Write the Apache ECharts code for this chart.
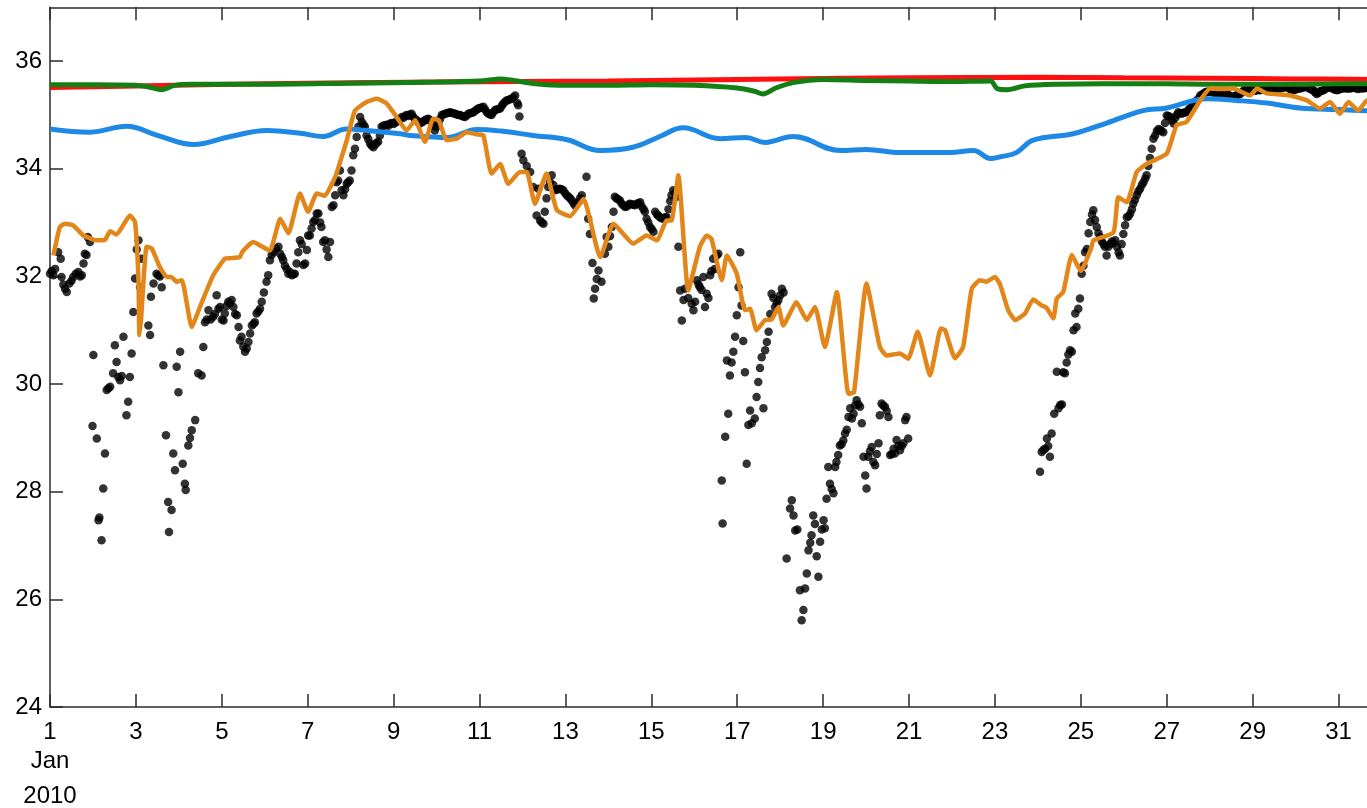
<!DOCTYPE html>
<html>
<head>
<meta charset="utf-8">
<script src="https://cdn.jsdelivr.net/npm/echarts@6/dist/echarts.min.js"></script>
<style>
html,body{margin:0;padding:0;background:#fff;overflow:hidden;}
#chart{width:1400px;height:808px;}
</style>
</head>
<body>
<div id="chart"></div>
<script>
// x: day of January 2010, y: salinity
const xTickDays = [1,3,5,7,9,11,13,15,17,19,21,23,25,27,29,31];
const yTicks = [24,26,28,30,32,34,36];

const observedDots = [
[1.00,32.05],[1.04,32.10],[1.08,32.02],[1.12,32.14],[1.19,32.45],[1.25,32.33],[1.27,31.99],[1.31,31.85],[1.35,31.77],[1.39,31.71],[1.45,31.87],[1.50,31.92],[1.54,31.99],[1.60,32.05],[1.66,32.08],[1.70,32.00],[1.74,32.02],[1.78,32.24],[1.81,32.42],[1.85,32.40],[1.88,32.73],[1.93,32.64],
[1.99,29.22],[2.01,30.54],[2.09,28.99],[2.13,27.47],[2.15,27.52],[2.20,27.10],[2.24,28.06],[2.28,28.71],[2.32,29.89],[2.36,29.92],[2.40,29.95],[2.47,30.20],[2.51,30.72],[2.55,30.41],[2.59,30.13],[2.63,30.07],[2.67,30.15],[2.71,30.88],[2.78,29.42],[2.82,29.67],[2.86,30.13],[2.90,30.57],[2.94,31.34],[2.98,31.96],[3.02,32.50],[3.06,32.67],[3.10,31.80],[3.13,32.33],[3.29,31.09],[3.33,30.91],[3.35,31.62],[3.41,31.87],[3.48,32.05],[3.52,32.02],[3.56,32.00],[3.60,31.80],
[3.64,30.35],[3.70,29.05],[3.75,27.81],[3.77,27.25],[3.83,27.66],[3.87,28.71],[3.91,28.40],[3.95,30.32],[3.99,29.85],[4.03,30.60],[4.09,28.52],[4.14,28.15],[4.16,28.03],[4.22,28.86],[4.26,29.00],[4.30,29.14],[4.38,29.33],[4.45,30.20],[4.53,30.16],[4.57,30.69],[4.61,31.15],[4.65,31.20],[4.69,31.37],[4.74,31.20],[4.80,31.25],[4.84,31.30],[4.88,31.65],[4.92,31.40],[4.96,31.43],[5.00,31.20],[5.04,31.18],[5.07,31.31],[5.11,31.45],[5.15,31.53],[5.19,31.50],[5.23,31.56],[5.27,31.43],[5.31,31.30],[5.35,31.28],[5.39,31.06],[5.42,30.81],[5.46,30.88],[5.50,30.70],[5.54,30.60],[5.58,30.66],[5.62,30.78],[5.66,30.94],[5.70,31.09],[5.74,31.12],[5.77,31.15],[5.81,31.31],[5.85,31.35],[5.89,31.40],[5.93,31.53],[5.98,31.70],[6.04,31.90],[6.08,32.02],[6.12,32.30],[6.16,32.40],[6.20,32.45],[6.26,32.52],[6.32,32.55],[6.36,32.42],[6.40,32.36],[6.43,32.30],[6.47,32.20],[6.51,32.14],[6.55,32.05],[6.59,32.08],[6.63,32.02],[6.67,32.04],[6.70,32.05],[6.74,32.24],[6.78,32.45],[6.82,32.67],[6.86,32.60],[6.90,32.21],[6.94,32.24],[6.98,32.49],[7.01,32.76],[7.05,32.76],[7.09,32.89],[7.13,33.01],[7.17,33.05],[7.21,33.17],[7.25,33.17],[7.29,33.00],[7.32,32.92],[7.36,32.64],[7.40,32.67],[7.44,32.50],[7.48,32.36],[7.52,32.64],[7.56,33.29],[7.60,33.32],[7.64,33.51],[7.67,33.75],[7.71,33.78],[7.75,33.97],[7.79,33.60],[7.83,33.51],[7.87,33.62],[7.91,33.72],[7.94,33.75],[7.98,33.78],[8.02,33.97],[8.06,34.25],[8.10,34.37],[8.14,34.59],[8.18,34.78],[8.22,34.96],[8.26,34.87],[8.30,34.82],[8.33,34.78],[8.37,34.62],[8.41,34.55],[8.45,34.47],[8.49,34.43],[8.53,34.40],[8.57,34.45],[8.60,34.48],[8.64,34.50],[8.68,34.62],[8.72,34.78],[8.76,34.80],[8.80,34.81],[8.84,34.82],[8.88,34.80],[8.92,34.84],[8.96,34.85],[9.00,34.83],[9.03,34.86],[9.07,34.87],[9.11,34.90],[9.15,34.92],[9.19,34.96],[9.23,34.95],[9.27,34.98],[9.30,35.00],[9.34,34.98],[9.38,35.01],[9.42,35.02],[9.46,34.96],[9.50,34.92],[9.54,34.90],[9.58,34.86],[9.61,34.84],[9.65,34.86],[9.69,34.88],[9.73,34.90],[9.77,34.92],[9.81,34.93],[9.85,34.90],[9.89,34.87],[9.93,34.80],[9.96,34.71],[10.00,34.78],[10.04,34.84],[10.08,34.92],[10.12,35.00],[10.16,35.01],[10.20,35.02],[10.24,35.03],[10.28,35.04],[10.31,35.05],[10.35,35.04],[10.39,35.03],[10.43,35.02],[10.47,35.01],[10.51,35.00],[10.55,35.00],[10.59,34.98],[10.63,34.97],[10.66,34.96],[10.70,34.99],[10.74,35.02],[10.78,35.03],[10.82,35.04],[10.86,35.05],[10.90,35.08],[10.94,35.10],[10.97,35.12],[11.01,35.13],[11.05,35.14],[11.09,35.15],[11.13,35.10],[11.17,35.05],[11.21,35.02],[11.25,35.01],[11.28,35.00],[11.32,35.05],[11.36,35.09],[11.40,35.10],[11.44,35.11],[11.48,35.12],[11.52,35.17],[11.55,35.21],[11.59,35.24],[11.63,35.27],[11.67,35.28],[11.71,35.29],[11.75,35.30],[11.79,35.33],[11.83,35.36],[11.88,35.22],[11.90,35.18],[11.93,34.97],
[11.98,34.28],[12.02,34.16],[12.10,34.05],[12.18,33.94],[12.25,33.66],[12.33,33.13],[12.37,33.63],[12.41,33.04],[12.45,33.00],[12.49,32.98],[12.52,33.20],[12.56,33.45],[12.60,33.66],[12.64,33.75],[12.68,33.88],[12.72,33.70],[12.76,33.60],[12.80,33.62],[12.84,33.62],[12.87,33.63],[12.91,33.62],[12.95,33.60],[12.99,33.55],[13.03,33.51],[13.07,33.48],[13.11,33.45],[13.15,33.41],[13.19,33.36],[13.22,33.32],[13.26,33.35],[13.30,33.38],[13.34,33.45],[13.38,33.51],[13.49,33.85],[13.53,33.07],[13.57,32.79],[13.63,32.25],[13.66,31.59],[13.69,31.77],[13.73,31.95],[13.77,32.11],[13.84,31.90],[13.92,32.42],[13.96,32.73],[14.00,32.55],[14.04,32.75],[14.08,32.92],[14.12,33.20],[14.15,33.48],[14.19,33.45],[14.23,33.43],[14.27,33.41],[14.31,33.35],[14.35,33.32],[14.39,33.29],[14.43,33.30],[14.47,33.33],[14.50,33.35],[14.54,33.34],[14.58,33.33],[14.62,33.32],[14.66,33.35],[14.70,33.36],[14.74,33.38],[14.78,33.30],[14.82,33.25],[14.85,33.20],[14.89,33.07],[14.93,33.00],[14.97,32.92],[15.01,32.88],[15.05,32.83],[15.09,33.20],[15.13,33.15],[15.16,33.13],[15.20,33.10],[15.24,33.08],[15.28,33.07],[15.32,33.10],[15.36,33.10],[15.40,33.25],[15.44,33.40],[15.47,33.51],[15.51,33.60],[15.55,33.55],[15.59,33.48],[15.63,32.55],[15.67,31.74],[15.71,31.18],[15.75,31.56],[15.78,31.77],[15.86,31.60],[15.94,31.49],[15.98,31.37],[16.02,31.53],[16.06,31.93],[16.10,31.85],[16.13,31.80],[16.17,31.75],[16.21,31.99],[16.25,31.43],[16.29,31.68],[16.33,31.60],[16.37,32.02],[16.40,32.10],[16.44,32.33],[16.48,32.14],[16.52,32.39],[16.56,32.42],
[16.64,28.21],[16.66,27.41],[16.72,29.02],[16.76,30.44],[16.79,29.45],[16.83,30.16],[16.87,30.40],[16.91,30.60],[16.95,30.88],[16.99,31.28],[17.03,31.80],[17.07,32.45],[17.10,31.46],[17.14,30.80],[17.18,30.22],[17.22,28.52],[17.26,29.24],[17.30,29.51],[17.34,29.27],[17.41,29.36],[17.45,29.76],[17.49,30.04],[17.53,30.30],[17.57,30.50],[17.61,29.55],[17.65,30.63],[17.69,30.78],[17.73,30.97],[17.77,31.30],[17.80,31.68],[17.84,31.60],[17.88,31.43],[17.92,31.50],[17.96,31.56],[18.00,31.65],[18.04,31.77],[18.08,31.70],
[18.15,26.76],[18.23,27.69],[18.27,27.84],[18.31,27.56],[18.35,27.28],[18.40,27.30],[18.46,26.17],[18.50,25.61],[18.54,25.80],[18.58,26.20],[18.62,26.48],[18.66,26.91],[18.70,27.05],[18.73,27.19],[18.77,27.56],[18.81,27.40],[18.85,26.80],[18.89,26.42],[18.93,27.07],[18.97,27.30],[19.01,27.47],[19.04,27.32],[19.08,27.87],[19.12,28.46],[19.16,28.15],[19.20,28.05],[19.24,27.97],[19.28,28.46],[19.31,28.55],[19.35,28.68],[19.39,28.86],[19.43,28.88],[19.47,28.95],[19.51,29.08],[19.55,29.15],[19.59,29.39],[19.63,29.55],[19.67,29.36],[19.71,29.45],[19.74,29.60],[19.78,29.70],[19.82,29.62],[19.86,29.58],[19.90,29.27],[19.94,28.65],[19.98,28.30],[20.01,28.06],[20.05,28.65],[20.09,28.75],[20.13,28.83],[20.17,28.55],[20.21,28.49],[20.25,28.70],[20.29,28.90],[20.32,29.42],[20.36,29.64],[20.40,29.60],[20.44,29.58],[20.48,29.50],[20.52,29.39],[20.56,28.68],[20.60,28.70],[20.64,28.80],[20.67,28.71],[20.71,28.96],[20.75,28.85],[20.79,28.77],[20.83,28.85],[20.87,28.90],[20.91,29.33],[20.94,29.39],[20.98,28.99],
[24.05,28.37],[24.09,28.74],[24.13,28.78],[24.17,28.80],[24.21,28.99],[24.24,28.85],[24.28,28.65],[24.32,29.08],[24.38,29.45],[24.44,30.23],[24.48,29.55],[24.52,29.61],[24.56,29.62],[24.59,30.22],[24.63,30.20],[24.67,30.40],[24.71,30.55],[24.75,30.63],[24.79,30.60],[24.83,31.00],[24.87,31.31],[24.90,31.06],[24.94,31.40],[24.98,31.59],[25.02,32.05],[25.06,32.20],[25.10,32.45],[25.14,32.51],[25.18,32.80],[25.22,33.01],[25.26,33.15],[25.29,33.23],[25.33,33.05],[25.37,32.92],[25.41,32.80],[25.45,32.73],[25.49,32.65],[25.53,32.60],[25.56,32.55],[25.60,32.39],[25.64,32.55],[25.68,32.60],[25.72,32.65],[25.76,32.62],[25.80,32.67],[25.84,32.55],[25.88,32.45],[25.91,32.39],[25.95,32.60],[25.99,32.79],[26.03,32.95],[26.07,33.10],[26.11,33.12],[26.15,33.17],[26.19,33.25],[26.22,33.35],[26.26,33.42],[26.30,33.51],[26.34,33.58],[26.38,33.63],[26.42,33.70],[26.46,33.75],[26.50,33.82],[26.53,33.88],[26.57,34.05],[26.61,34.20],[26.65,34.37],[26.69,34.56],[26.73,34.62],[26.77,34.70],[26.81,34.74],[26.85,34.72],[26.88,34.70],[26.92,34.68],[26.96,34.85],[27.00,34.99],[27.04,34.98],[27.08,34.96],[27.12,34.90],[27.16,34.84],[27.20,34.95],[27.23,35.00],[27.27,35.05],[27.31,35.03],[27.35,35.02],[27.39,35.04],[27.43,35.05],[27.47,35.05],[27.51,35.10],[27.54,35.12],[27.58,35.15],[27.62,35.20],[27.66,35.24],[27.70,35.27],[27.74,35.30],[27.78,35.36],[27.82,35.38],[27.86,35.40],[27.90,35.42],[27.93,35.43],[27.97,35.43],
[28.01,35.43],[28.05,35.42],[28.09,35.43],[28.13,35.40],[28.17,35.38],[28.20,35.37],[28.24,35.36],[28.28,35.38],[28.32,35.40],[28.36,35.39],[28.40,35.39],[28.44,35.37],[28.48,35.35],[28.51,35.34],[28.55,35.33],[28.59,35.35],[28.63,35.37],[28.67,35.38],[28.71,35.39],[28.75,35.42],[28.79,35.45],[28.82,35.47],[28.86,35.49],[28.90,35.48],[28.94,35.47],[28.98,35.46],[29.02,35.46],[29.06,35.45],[29.10,35.46],[29.13,35.47],[29.17,35.46],[29.21,35.47],[29.25,35.48],[29.29,35.49],[29.33,35.49],[29.37,35.48],[29.41,35.47],[29.44,35.46],[29.48,35.46],[29.52,35.47],[29.56,35.48],[29.60,35.49],[29.64,35.49],[29.68,35.50],[29.72,35.51],[29.75,35.52],[29.79,35.52],[29.83,35.50],[29.87,35.48],[29.91,35.47],[29.95,35.46],[29.99,35.47],[30.03,35.48],[30.06,35.49],[30.10,35.49],[30.14,35.50],[30.18,35.51],[30.22,35.52],[30.26,35.52],[30.30,35.50],[30.34,35.48],[30.38,35.47],[30.42,35.46],[30.45,35.42],[30.49,35.39],[30.53,35.41],[30.57,35.44],[30.61,35.45],[30.65,35.46],[30.69,35.48],[30.73,35.50],[30.76,35.51],[30.80,35.52],[30.84,35.50],[30.88,35.48],[30.92,35.47],[30.96,35.46],[31.00,35.47],[31.04,35.48],[31.07,35.49],[31.11,35.49],[31.15,35.50],[31.19,35.49],[31.23,35.49],[31.27,35.49],[31.31,35.50],[31.35,35.51],[31.38,35.50],[31.42,35.49],[31.46,35.48],[31.50,35.49],[31.54,35.50],[31.58,35.49],[31.62,35.50],[31.66,35.51],[31.70,35.50]
];

const orangeLine = [
[1.08,32.39],[1.23,32.92],[1.35,32.98],[1.54,32.95],[1.78,32.76],[2.09,32.67],[2.28,32.68],[2.40,32.84],[2.55,32.78],[2.86,33.13],[2.98,33.01],[3.06,31.93],[3.08,30.91],[3.12,31.20],[3.25,32.55],[3.37,32.52],[3.56,32.17],[3.72,31.99],[3.82,31.99],[3.95,31.90],[4.07,31.93],[4.30,31.06],[4.49,31.43],[4.80,32.02],[5.07,32.33],[5.20,32.34],[5.42,32.36],[5.48,32.46],[5.73,32.64],[5.88,32.58],[6.12,32.48],[6.36,33.07],[6.55,32.80],[6.82,33.54],[7.01,33.20],[7.21,33.54],[7.40,33.50],[7.60,33.78],[7.67,33.91],[7.91,34.53],[8.10,35.08],[8.37,35.24],[8.61,35.30],[8.84,35.21],[9.07,34.96],[9.30,34.71],[9.50,34.90],[9.73,34.50],[9.92,34.93],[10.05,34.90],[10.24,34.53],[10.47,34.56],[10.70,34.68],[10.93,34.64],[11.09,34.62],[11.28,33.91],[11.48,34.09],[11.67,33.72],[11.94,33.94],[12.10,33.94],[12.29,33.35],[12.56,33.91],[12.80,33.23],[13.11,33.12],[13.42,33.44],[13.81,32.36],[14.12,32.98],[14.58,32.61],[14.89,32.76],[15.13,32.67],[15.36,33.04],[15.47,33.04],[15.63,33.88],[15.86,31.74],[16.13,32.55],[16.29,32.76],[16.40,32.70],[16.64,31.93],[16.76,32.39],[16.99,32.05],[17.18,31.37],[17.30,31.40],[17.45,31.00],[17.65,31.19],[17.80,31.20],[17.96,31.43],[18.07,31.09],[18.38,31.52],[18.62,31.19],[18.81,31.43],[19.04,30.69],[19.32,31.71],[19.59,29.82],[19.72,29.85],[20.01,31.87],[20.32,30.69],[20.48,30.53],[20.79,30.57],[20.98,30.47],[21.20,30.97],[21.49,30.16],[21.74,31.03],[21.84,31.00],[22.07,30.48],[22.26,30.69],[22.46,31.77],[22.65,31.93],[22.80,31.90],[23.00,31.99],[23.12,31.85],[23.31,31.37],[23.47,31.19],[23.70,31.31],[23.89,31.57],[24.09,31.46],[24.20,31.42],[24.36,31.22],[24.44,31.59],[24.59,31.71],[24.79,32.40],[25.00,32.10],[25.25,32.55],[25.29,32.67],[25.76,32.82],[25.87,33.47],[26.07,33.38],[26.30,33.94],[26.53,34.09],[27.00,34.28],[27.23,34.81],[27.46,34.87],[27.78,35.27],[28.01,35.49],[28.30,35.48],[28.55,35.49],[28.94,35.36],[29.10,35.49],[29.33,35.40],[29.87,35.36],[30.26,35.27],[30.57,35.12],[30.80,35.24],[31.03,35.02],[31.23,35.24],[31.46,35.08],[31.66,35.27],[31.80,35.20]
];

const blueLine = [
[1.00,34.74],[1.93,34.68],[2.79,34.79],[3.50,34.62],[4.34,34.45],[5.20,34.60],[6.05,34.71],[6.82,34.66],[7.36,34.60],[7.90,34.74],[8.50,34.70],[9.15,34.65],[9.38,34.62],[10.24,34.58],[10.94,34.73],[11.50,34.70],[12.25,34.62],[13.04,34.54],[13.81,34.34],[14.57,34.40],[15.20,34.60],[15.74,34.76],[16.60,34.56],[17.20,34.58],[17.65,34.49],[18.30,34.60],[19.40,34.34],[20.00,34.36],[20.80,34.30],[21.95,34.30],[22.50,34.34],[22.90,34.19],[23.12,34.22],[23.50,34.30],[23.89,34.53],[24.82,34.65],[25.60,34.85],[26.45,35.08],[27.00,35.13],[27.94,35.30],[28.60,35.27],[29.34,35.22],[30.10,35.13],[31.00,35.10],[31.66,35.08],[32.00,35.08]
];

const redLine = [
[1,35.51],[3,35.54],[6,35.58],[10,35.61],[14,35.63],[18,35.67],[21,35.69],[24,35.70],[26,35.69],[28,35.68],[30,35.67],[32,35.66]
];

const greenLine = [
[1,35.56],[2,35.56],[3,35.55],[3.3,35.52],[3.6,35.47],[3.9,35.55],[4.3,35.57],[6,35.57],[8,35.59],[10,35.61],[11,35.63],[11.5,35.67],[11.8,35.64],[12.3,35.58],[13,35.55],[14,35.55],[15,35.56],[16,35.55],[17,35.50],[17.4,35.44],[17.6,35.39],[17.9,35.50],[18.3,35.60],[19,35.66],[20,35.64],[21,35.63],[22,35.62],[22.9,35.63],[23.05,35.49],[23.3,35.47],[23.7,35.54],[24.5,35.57],[25.5,35.58],[27,35.58],[28,35.57],[29,35.57],[30,35.57],[31,35.58],[32,35.58]
];

const chart = echarts.init(document.getElementById('chart'));
const axisColor = '#2b2b2b';
const fontFam = '"Liberation Sans", Arial, Helvetica, sans-serif';

chart.setOption({
  animation: false,
  backgroundColor: '#fff',
  grid: {left: 50, right: 18.5, top: 7.3, bottom: 100, containLabel: false},
  xAxis: [
    {
      type: 'value', min: 1, max: 32, interval: 2, position: 'bottom',
      axisLine: {show: true, onZero: false, lineStyle: {color: axisColor, width: 1.5}},
      axisTick: {show: true, inside: true, length: 13, lineStyle: {color: axisColor, width: 1.5}},
      splitLine: {show: false},
      axisLabel: {
        margin: 11,
        fontFamily: fontFam,
        formatter: function (v) {
          if (xTickDays.indexOf(v) < 0) return '';
          if (v === 1) return '{a|1}\n{b|Jan}\n{c|2010}';
          return '{a|' + v + '}';
        },
        rich: {
          a: {fontSize: 24, lineHeight: 28, color: '#000', fontFamily: fontFam},
          b: {fontSize: 24, lineHeight: 30, color: '#000', fontFamily: fontFam},
          c: {fontSize: 24, lineHeight: 40, color: '#000', fontFamily: fontFam}
        }
      }
    },
    {
      type: 'value', min: 1, max: 32, interval: 2, position: 'top',
      axisLine: {show: true, onZero: false, lineStyle: {color: axisColor, width: 1.5}},
      axisTick: {show: true, inside: true, length: 13, lineStyle: {color: axisColor, width: 1.5}},
      splitLine: {show: false},
      axisLabel: {show: false}
    }
  ],
  yAxis: {
    type: 'value', min: 24, max: 37, interval: 2,
    axisLine: {show: true, onZero: false, lineStyle: {color: axisColor, width: 1.5}},
    axisTick: {show: true, inside: true, length: 13, lineStyle: {color: axisColor, width: 1.5}},
    splitLine: {show: false},
    axisLabel: {
      showMaxLabel: false,
      margin: 8, fontSize: 24, color: '#000', fontFamily: fontFam,
      formatter: function (v) { return yTicks.indexOf(v) >= 0 ? String(v) : ''; }
    }
  },
  series: [
    {type: 'scatter', data: observedDots, symbol: 'circle', symbolSize: 8.5,
     itemStyle: {color: '#000'}, silent: true},
    {type: 'line', data: redLine, showSymbol: false, smooth: 0.4,
     lineStyle: {color: '#ff0f0f', width: 5}},
    {type: 'line', data: greenLine, showSymbol: false, smooth: 0.3,
     lineStyle: {color: '#148014', width: 5}},
    {type: 'line', data: blueLine, showSymbol: false, smooth: 0.4,
     lineStyle: {color: '#1e88e5', width: 5}},
    {type: 'line', data: orangeLine, showSymbol: false, smooth: 0.15,
     lineStyle: {color: '#e2861a', width: 4.5, join: 'round'}}
  ]
});
</script>
</body>
</html>
